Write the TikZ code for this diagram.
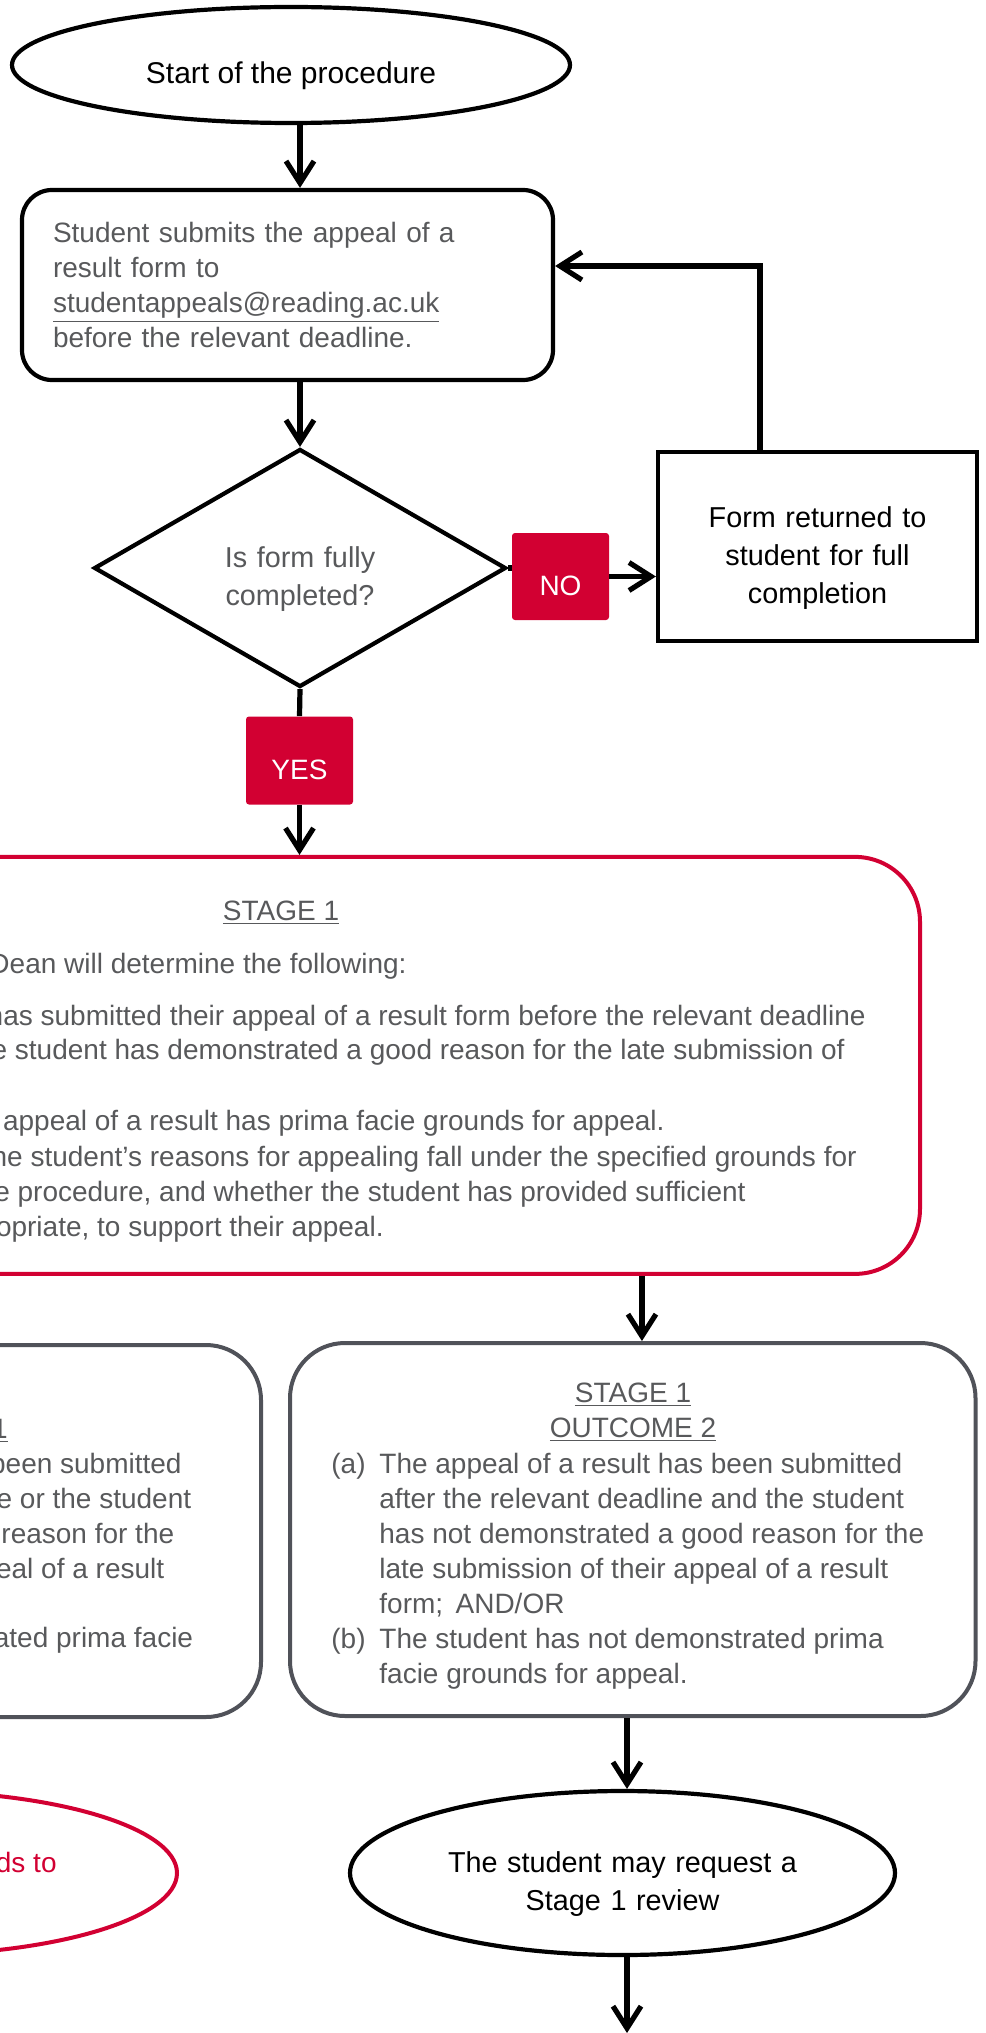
\documentclass[tikz,border=0pt]{standalone}
\usepackage{fontspec}
\setmainfont{Liberation Sans}
\usepackage{tikz}
\usetikzlibrary{arrows.meta,shapes.geometric}
\definecolor{readingred}{RGB}{210,0,50}
\definecolor{textgrey}{RGB}{88,89,91}
\definecolor{framegrey}{RGB}{80,82,89}
\tikzset{
    flownode/.style = {
        align=center,
        draw=black,
        line width=2.1pt,
        inner sep=0pt,
        font=\fontsize{14.4pt}{19pt}\selectfont
    },
    dropnode/.style = {
        execute at begin node=\rule{0pt}{21.5pt}
    },
    termnode/.style = {
        flownode,
        dropnode,
        ellipse
    },
    boxnode/.style = {
        flownode,
        rectangle,
        rounded corners=15pt,
        align=left,
        text=textgrey,
        inner xsep=15.5pt,
        font=\fontsize{14pt}{17.6pt}\selectfont
    },
    decnode/.style = {
        flownode,
        dropnode,
        diamond,
        aspect=1.73,
        text=textgrey
    },
    plainnode/.style = {
        flownode,
        dropnode,
        rectangle
    },
    tagnode/.style = {
        rectangle,
        rounded corners=1.5pt,
        fill=readingred,
        text=white,
        inner sep=0pt,
        execute at begin node=\rule{0pt}{19pt},
        font=\fontsize{14pt}{17.5pt}\selectfont
    },
    stagenode/.style = {
        rectangle,
        rounded corners=32.5pt,
        draw=readingred,
        line width=2pt
    },
    outnode/.style = {
        rectangle,
        rounded corners=27.5pt,
        draw=framegrey,
        line width=2pt
    },
    redterm/.style = {
        ellipse,
        draw=readingred,
        line width=2pt
    },
    greytext/.style = {
        text=textgrey,
        inner sep=0pt,
        font=\fontsize{14pt}{17.5pt}\selectfont
    },
    redtext/.style = {
        greytext,
        text=readingred
    },
    plainline/.style = {
        line width=2.6pt
    },
    arrowline/.style = {
        plainline,
        -{Straight Barb[length=11pt,width=14pt]}
    }
}

\begin{document}
\begin{tikzpicture}[x=0.5pt, y=-0.5pt]
    \useasboundingbox (0,0) rectangle (985,2033);
    \clip (0,0) rectangle (985,2033);

    % top part
    \node [termnode, minimum width=279pt, minimum height=58pt, font=\fontsize{15pt}{19pt}\selectfont] (start) at (291,65) {Start of the procedure};
    \node [boxnode, minimum width=265.5pt, minimum height=95pt, text width=234.5pt] (submit) at (287.5,285)
        {Student submits the appeal of a\\result form to\\\underline{studentappeals@reading.ac.uk}\\before the relevant deadline.};
    \node [decnode, minimum width=206pt, minimum height=119pt, text width=82pt] (check) at (300,568) {Is form fully\\completed?};
    \node [tagnode, minimum width=48.5pt, minimum height=43.5pt] (no) at (560.5,576.5) {NO};
    \node [plainnode, minimum width=159.5pt, minimum height=94.5pt, text width=140pt] (back) at (817.5,546.5) {Form returned to\\student for full\\completion};
    \node [tagnode, minimum width=53.5pt, minimum height=44pt] (yes) at (299.5,760.5) {YES};
    \coordinate (bend) at (760,266);

    % stage 1
    \node [stagenode, minimum width=639pt, minimum height=208.5pt] (stage) at (281,1065.4) {};
    \node [greytext] (stagetitle) at (281,913) {\underline{STAGE 1}};
    \node [greytext, anchor=base east] (stageline1) at (407,973) {Dean will determine the following:};
    \node [greytext, anchor=base east] (stageline2) at (866,1025) {has submitted their appeal of a result form before the relevant deadline};
    \node [greytext, anchor=base east] (stageline3) at (845,1059.5) {e student has demonstrated a good reason for the late submission of};
    \node [greytext, anchor=base east] (stageline4) at (665,1130) {s appeal of a result has prima facie grounds for appeal.};
    \node [greytext, anchor=base east] (stageline5) at (857,1166) {he student’s reasons for appealing fall under the specified grounds for};
    \node [greytext, anchor=base east] (stageline6) at (746,1201) {e procedure, and whether the student has provided sufficient};
    \node [greytext, anchor=base east] (stageline7) at (384,1236.5) {opriate, to support their appeal.};

    % outcome 1
    \node [outnode, minimum width=342.5pt, minimum height=186pt] (outone) at (-81.5,1531) {};
    \node [greytext, anchor=base east] (outoneline1) at (8,1438.6) {\underline{1}};
    \node [greytext, anchor=base east] (outoneline2) at (182,1473.6) {been submitted};
    \node [greytext, anchor=base east] (outoneline3) at (191.6,1508.7) {e or the student};
    \node [greytext, anchor=base east] (outoneline4) at (174.6,1543.8) {reason for the};
    \node [greytext, anchor=base east] (outoneline5) at (164.6,1578.8) {peal of a result};
    \node [greytext, anchor=base east] (outoneline6) at (193.5,1647.5) {ated prima facie};

    % outcome 2
    \node [outnode, minimum width=342.75pt, minimum height=186.5pt] (outtwo) at (632.75,1529.5) {};
    \node [greytext, align=center] (outtwotitle) at (633,1412.5) {\underline{STAGE 1}\\\underline{OUTCOME 2}};
    \node [greytext, align=left, anchor=north west] (outtwolist) at (331,1453)
        {\makebox[24pt][l]{(a)}The appeal of a  result has been submitted\\
         \hspace*{24pt}after the relevant deadline and the  student\\
         \hspace*{24pt}has not demonstrated a good reason for the\\
         \hspace*{24pt}late submission of their appeal of a result\\
         \hspace*{24pt}form;\, AND/OR\\
         \makebox[24pt][l]{(b)}The student has not demonstrated prima\\
         \hspace*{24pt}facie grounds for appeal.};

    % bottom part
    \node [redterm, minimum width=272.5pt, minimum height=82pt] (stagetwo) at (-95.5,1873) {};
    \node [redtext, anchor=base east] (stagetwoline) at (57,1872) {ds to};
    \node [termnode, minimum width=272.5pt, minimum height=82pt, text width=185pt] (review) at (622.5,1873) {The student may request a\\Stage 1 review};
    \coordinate (down) at (627,2033);

    % connectors
    \draw [arrowline] (start.south -| check.north) -- (submit.north -| check.north);
    \draw [arrowline] (submit.south -| check.north) -- (check.north);
    \draw [plainline] (check.east) -- (check.east -| no.west);
    \draw [arrowline] (no.east) -- (no.east -| back.west);
    \draw [arrowline] (back.north -| bend) -- (bend) -- (bend -| submit.east);
    \draw [plainline] (check.south) -- (yes.north);
    \draw [arrowline] (yes.south) -- (yes.south |- stage.north);
    \draw [arrowline] ([xshift=4.6pt]outtwo.north |- stage.south) -- ([xshift=4.6pt]outtwo.north);
    \draw [arrowline] ([xshift=2.25pt]review.north |- outtwo.south) -- ([xshift=2.25pt]review.north);
    \draw [arrowline] ([xshift=2.25pt]review.south) -- (down);
\end{tikzpicture}
\end{document}
